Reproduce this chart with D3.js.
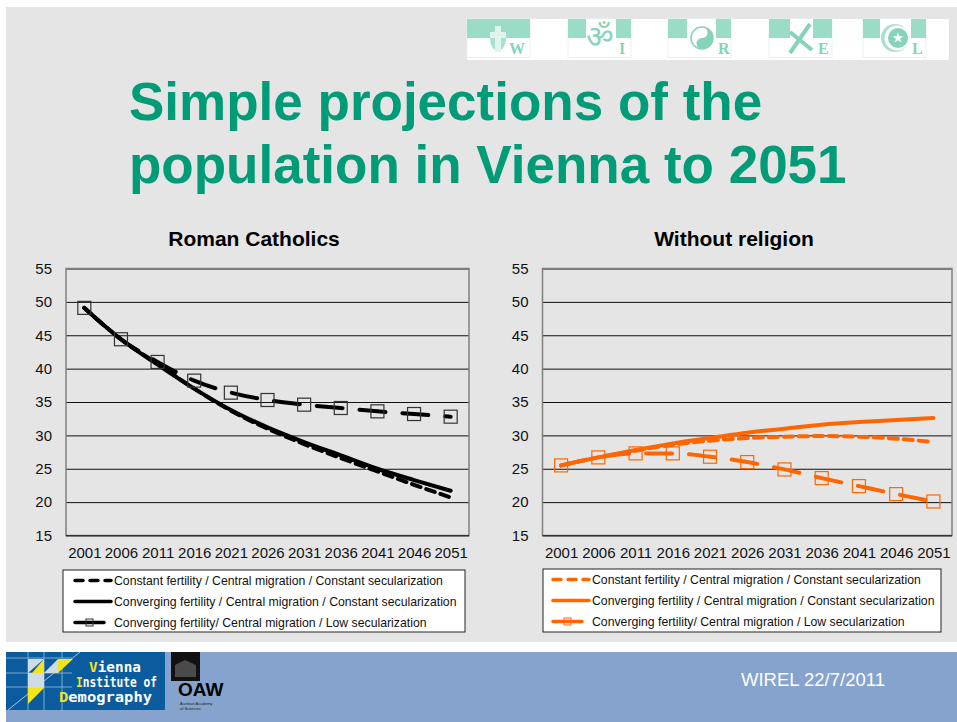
<!DOCTYPE html>
<html>
<head>
<meta charset="utf-8">
<script src="https://cdn.jsdelivr.net/npm/d3@7"></script>
<style>
	html, body { margin: 0; padding: 0; background: #fff; }
	svg { display: block; }
	text { font-family: "Liberation Sans", Arial, sans-serif; }
</style>
</head>
<body>
<div id="chart-area"></div>
<script>

// Values
let years = ["2001", "2006", "2011", "2016", "2021", "2026", "2031", "2036", "2041", "2046", "2051"];
let yTicks = [15, 20, 25, 30, 35, 40, 45, 50, 55];

let catholicConstant = [49.1, 44.4, 40.7, 37.0, 33.7, 31.0, 28.7, 26.6, 24.6, 22.6, 20.7];
let catholicConverging = [49.1, 44.4, 40.6, 37.0, 33.8, 31.2, 29.0, 27.0, 25.0, 23.3, 21.7];
let catholicLow = [49.1, 44.4, 41.0, 38.2, 36.4, 35.3, 34.6, 34.1, 33.6, 33.2, 32.8];

let noneConstant = [25.5, 26.7, 27.7, 28.6, 29.2, 29.6, 29.8, 29.9, 29.8, 29.5, 29.0];
let noneConverging = [25.5, 26.7, 27.8, 28.8, 29.6, 30.4, 31.0, 31.6, 32.0, 32.3, 32.6];
let noneLow = [25.5, 26.7, 27.3, 27.3, 26.8, 26.0, 24.9, 23.6, 22.4, 21.2, 20.1];

let legendLabels = [
	"Constant fertility / Central migration / Constant secularization",
	"Converging fertility / Central migration / Constant secularization",
	"Converging fertility/ Central migration / Low secularization"
];

let titleLines = ["Simple projections of the", "population in Vienna to 2051"];
let logoLines = ["Vienna", "Institute of", "Demography"];
let iconLetters = ["W", "I", "R", "E", "L"];

let green = "#009b77";
let teal = "#9adcc6";
let tealDark = "#86d3ba";

let svg = d3.select("#chart-area").append("svg")
	.attr("width", 957)
	.attr("height", 722);

// Slide background and footer band
svg.append("rect").attr("x", 6).attr("y", 7).attr("width", 951).attr("height", 635).attr("fill", "#e5e5e5");
svg.append("rect").attr("x", 6).attr("y", 652).attr("width", 951).attr("height", 70).attr("fill", "#85a3cc");

// Title
svg.append("g").selectAll("text")
	.data(titleLines)
	.enter().append("text")
	.attr("x", 129)
	.attr("y", (d, i) => 120 + i * 63)
	.attr("font-size", 53)
	.attr("font-weight", "bold")
	.attr("fill", green)
	.text(d => d);

drawIcons();
drawChart({left: 66, right: 469, title: "Roman Catholics", titleX: 254, color: "#000", boxColor: "#333",
	constant: catholicConstant, converging: catholicConverging, low: catholicLow,
	legend: {x: 63, y: 570, w: 402, h: 62, lineX: 75, textX: 114}});
drawChart({left: 542.5, right: 952, title: "Without religion", titleX: 734, color: "#ff6600", boxColor: "#ff6600",
	constant: noneConstant, converging: noneConverging, low: noneLow,
	legend: {x: 543, y: 569, w: 398, h: 63, lineX: 553, textX: 592}});
drawFooter();


function drawChart(c) {
	let top = 268.5, bottom = 535.5;
	let g = svg.append("g");

	let x = d3.scalePoint().domain(years).range([c.left, c.right]).padding(0.5);
	let y = d3.scaleLinear().domain([15, 55]).range([bottom, top]);

	g.append("text")
		.attr("x", c.titleX).attr("y", 246)
		.attr("text-anchor", "middle")
		.attr("font-size", 21).attr("font-weight", "bold")
		.text(c.title);

	// Axes
	let yAxis = d3.axisLeft(y).tickValues(yTicks).tickSize(c.left - c.right).tickPadding(14);
	let yG = g.append("g").attr("transform", "translate(" + c.left + ",0)").call(yAxis);
	yG.select(".domain").remove();
	yG.selectAll(".tick line").attr("stroke", "#111");
	yG.selectAll(".tick text").attr("font-size", 15).attr("font-family", "Liberation Sans").attr("fill", "#111");

	let xAxis = d3.axisBottom(x).tickSize(0).tickPadding(12);
	let xG = g.append("g").attr("transform", "translate(0," + bottom + ")").call(xAxis);
	xG.select(".domain").remove();
	xG.selectAll(".tick text").attr("font-size", 15).attr("font-family", "Liberation Sans").attr("fill", "#111");

	// Plot frame
	g.append("rect")
		.attr("x", c.left).attr("y", top)
		.attr("width", c.right - c.left).attr("height", bottom - top)
		.attr("fill", "none").attr("stroke", "#808080").attr("stroke-width", 1.5);
	g.append("line")
		.attr("x1", c.left).attr("x2", c.right)
		.attr("y1", bottom).attr("y2", bottom)
		.attr("stroke", "#333").attr("stroke-width", 1.2);

	// Lines
	let line = d3.line()
		.x((d, i) => x(years[i]))
		.y(d => y(d))
		.curve(d3.curveMonotoneX);

	let series = [
		{values: c.converging, dash: null},
		{values: c.constant, dash: "9 6"},
		{values: c.low, dash: "26 17"}
	];
	g.selectAll(".line")
		.data(series)
		.enter().append("path")
		.attr("class", "line")
		.attr("d", d => line(d.values))
		.attr("fill", "none")
		.attr("stroke", c.color)
		.attr("stroke-width", 4)
		.attr("stroke-linecap", "round")
		.attr("stroke-dasharray", d => d.dash);

	// Squares of the low secularization series
	g.selectAll(".marker")
		.data(c.low)
		.enter().append("rect")
		.attr("class", "marker")
		.attr("x", (d, i) => x(years[i]) - 6.5)
		.attr("y", d => y(d) - 6.5)
		.attr("width", 13).attr("height", 13)
		.attr("fill", "none")
		.attr("stroke", c.boxColor)
		.attr("stroke-width", 1.2);

	// Legend
	let l = c.legend;
	let lg = g.append("g");
	lg.append("rect")
		.attr("x", l.x).attr("y", l.y).attr("width", l.w).attr("height", l.h)
		.attr("fill", "#fff").attr("stroke", "#222").attr("stroke-width", 1);

	let rows = [{dash: "8 7"}, {dash: null}, {dash: null, box: true}];
	rows.forEach((r, i) => {
		let ry = l.y + 10.5 + i * 21;
		lg.append("line")
			.attr("x1", l.lineX).attr("x2", l.lineX + (r.box ? 29 : 36))
			.attr("y1", ry).attr("y2", ry)
			.attr("stroke", c.color).attr("stroke-width", 3.5)
			.attr("stroke-linecap", "round")
			.attr("stroke-dasharray", r.dash);
		if (r.box) {
			lg.append("rect")
				.attr("x", l.lineX + 11).attr("y", ry - 3.5)
				.attr("width", 7).attr("height", 7)
				.attr("fill", "none").attr("stroke", c.boxColor).attr("stroke-width", 1);
		}
		lg.append("text")
			.attr("x", l.textX).attr("y", ry + 4.5)
			.attr("font-size", 12.25).attr("fill", "#111")
			.text(legendLabels[i]);
	});
}


// The five little flag icons, top right
function drawIcons() {
	let g = svg.append("g");
	g.append("rect").attr("x", 467).attr("y", 19).attr("width", 482).attr("height", 41).attr("fill", "#fff");

	let xs = [467, 568, 668, 769, 863];
	let cut = [null, [18, 30], [19, 29], [21, 23], [17, 31]];
	let letterX = [42, 51, 50, 49, 49];

	iconLetters.forEach((letter, i) => {
		let ic = g.append("g").attr("transform", "translate(" + xs[i] + ",19)");
		ic.append("rect").attr("width", 63).attr("height", 38.5).attr("fill", "#fff").attr("stroke", "#e4f5ef").attr("stroke-width", 1);
		ic.append("rect").attr("width", 63).attr("height", 19).attr("fill", teal);
		if (cut[i]) {
			ic.append("rect").attr("x", cut[i][0]).attr("width", cut[i][1]).attr("height", 19).attr("fill", "#fff");
		}
		ic.append("text")
			.attr("x", letterX[i]).attr("y", 34.5)
			.attr("style", "font-family:'Liberation Serif'")
			.attr("font-size", 16).attr("font-weight", "bold")
			.attr("fill", tealDark)
			.text(letter);
	});

	// W: shield with cross
	let w = g.append("g").attr("transform", "translate(467,19)");
	w.append("path").attr("d", "M23 19 L39 19 Q39 29 31 33 Q23 29 23 19 Z").attr("fill", "#a9e0cd");
	w.append("rect").attr("x", 28).attr("y", 7).attr("width", 6).attr("height", 26).attr("fill", "#dff4ec");
	w.append("rect").attr("x", 23).attr("y", 13).attr("width", 16).attr("height", 6).attr("fill", "#dff4ec");

	// I: om sign
	g.append("text")
		.attr("x", 600).attr("y", 47).attr("text-anchor", "middle")
		.attr("style", "font-family:'Noto Sans','DejaVu Sans'")
		.attr("font-size", 30).attr("fill", tealDark)
		.text("ॐ");

	// R: yin yang
	let r = g.append("g").attr("transform", "translate(702,38)");
	r.append("circle").attr("r", 11).attr("fill", "#fff").attr("stroke", tealDark).attr("stroke-width", 1.5);
	r.append("path").attr("d", "M0 -11 A11 11 0 0 1 0 11 A5.5 5.5 0 0 1 0 0 A5.5 5.5 0 0 0 0 -11 Z").attr("fill", tealDark);
	r.append("circle").attr("cy", -5.5).attr("r", 1.6).attr("fill", "#fff");
	r.append("circle").attr("cy", 5.5).attr("r", 1.6).attr("fill", tealDark);

	// E: crossed lines
	let e = g.append("g").attr("stroke", tealDark).attr("stroke-width", 4);
	e.append("line").attr("x1", 810).attr("y1", 24).attr("x2", 790).attr("y2", 53);
	e.append("line").attr("x1", 790).attr("y1", 32).attr("x2", 812).attr("y2", 50);

	// L: crescent and star
	let m = g.append("g").attr("transform", "translate(895,38)");
	m.append("circle").attr("r", 14).attr("fill", "#a9e0cd");
	m.append("circle").attr("cx", 2).attr("r", 12.5).attr("fill", "#fff");
	m.append("circle").attr("cx", 3).attr("r", 10).attr("fill", tealDark);
	m.append("path").attr("d", d3.symbol().type(d3.symbolStar).size(36)()).attr("transform", "translate(3,0)").attr("fill", "#fff");
}


function drawFooter() {
	let g = svg.append("g");

	// Institute logo
	g.append("rect").attr("x", 6).attr("y", 652).attr("width", 159).attr("height", 58).attr("fill", "#0b5c9e");
	let gridV = [28, 44, 62];
	gridV.forEach(v => g.append("line").attr("x1", v).attr("x2", v).attr("y1", 652).attr("y2", 710).attr("stroke", "#7ea9cd").attr("stroke-width", 1));
	let gridH = [658, 673, 687];
	gridH.forEach(v => g.append("line").attr("x1", 6).attr("x2", 72).attr("y1", v).attr("y2", v).attr("stroke", "#7ea9cd").attr("stroke-width", 1));
	g.append("line").attr("x1", 8).attr("y1", 710).attr("x2", 80).attr("y2", 652).attr("stroke", "#a9c5dc").attr("stroke-width", 1);

	let tiles = [
		{d: "M28 659 L44 659 L28 673 Z", fill: "#cfdbe6"},
		{d: "M44 659 L44 673 L32 673 Z", fill: "#f4e41c"},
		{d: "M58 659 L73 659 L58 673 Z", fill: "#f4e41c"},
		{d: "M44 673 L58 659 L58 673 Z", fill: "#cfdbe6"},
		{d: "M28 673 L44 673 L44 688 L28 688 Z", fill: "#cfdbe6"},
		{d: "M28 688 L44 688 L28 704 Z", fill: "#f4e41c"}
	];
	g.selectAll(".tile").data(tiles).enter().append("path")
		.attr("class", "tile").attr("d", d => d.d).attr("fill", d => d.fill);

	let logoX = [89, 76, 59];
	let logoW = [52, 81, 93];
	logoLines.forEach((t, i) => {
		let txt = g.append("text")
			.attr("x", logoX[i]).attr("y", 672 + i * 15)
			.attr("textLength", logoW[i])
			.attr("lengthAdjust", "spacingAndGlyphs")
			.attr("style", "font-family:'DejaVu Sans Mono'")
			.attr("font-size", 14.5).attr("font-weight", "bold")
			.attr("fill", "#fff");
		txt.append("tspan").attr("fill", "#f4e41c").text(t[0]);
		txt.append("tspan").text(t.slice(1));
	});

	// Academy logo
	g.append("rect").attr("x", 171).attr("y", 652).attr("width", 29).attr("height", 29).attr("fill", "#111");
	g.append("path").attr("d", "M175 665 L185 660 L196 665 L196 677 L175 677 Z").attr("fill", "#4a4a4a");
	g.append("text").attr("x", 178).attr("y", 696).attr("font-size", 19).attr("font-weight", "bold").attr("fill", "#000").text("OAW");
	g.append("text").attr("x", 180).attr("y", 705).attr("font-size", 4).attr("fill", "#222").text("Austrian Academy");
	g.append("text").attr("x", 180).attr("y", 710).attr("font-size", 4).attr("fill", "#222").text("of Sciences");

	g.append("text")
		.attr("x", 741).attr("y", 686)
		.attr("font-size", 18.5).attr("fill", "#fff")
		.text("WIREL 22/7/2011");
}
</script>
</body>
</html>
